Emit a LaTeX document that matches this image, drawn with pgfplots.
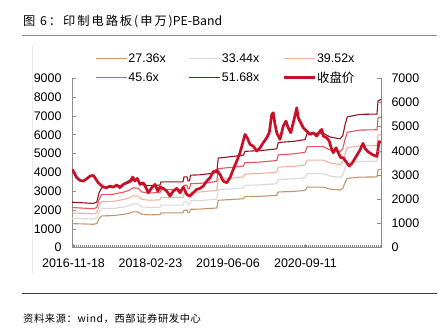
\documentclass[border=0pt]{standalone}
\usepackage{pgfplots}
\pgfplotsset{compat=1.18}
\usepackage{pgfplotstable}
\usepackage{fontspec}
\setmainfont{Liberation Sans}
\newfontfamily\cjk{Noto Sans CJK SC}
\newfontfamily\cjksp[LetterSpace=16]{Noto Sans CJK SC}
\newfontfamily\cjksrc[LetterSpace=6]{Noto Sans CJK SC}
\definecolor{c27}{RGB}{196,150,108}
\definecolor{c33}{RGB}{217,217,217}
\definecolor{c39}{RGB}{244,177,160}
\definecolor{c45}{RGB}{232,85,95}
\definecolor{c51}{RGB}{150,20,30}
\definecolor{cclose}{RGB}{200,16,40}
\definecolor{axgray}{RGB}{140,140,140}

% idx = trading-day index; b..f = 27.36x, 33.44x, 39.52x, 45.6x, 51.68x
\pgfplotstableread{
idx  b     c     d     e     f
0    1280  1564  1849  2133  2418
85   1245  1522  1798  2075  2352
99   1280  1564  1849  2133  2418
109  1560  1907  2253  2600  2947
119  1690  2066  2441  2817  3192
165  1705  2084  2463  2842  3221
205  1770  2163  2557  2950  3343
232  1840  2249  2658  3067  3476
245  1910  2334  2759  3183  3608
265  1895  2316  2737  3158  3579
279  1775  2169  2564  2958  3353
312  1745  2133  2521  2908  3296
352  1760  2151  2542  2933  3324
356  1850  2261  2672  3083  3494
444  1850  2261  2672  3083  3494
448  1990  2432  2874  3317  3759
460  1990  2432  2874  3317  3759
464  1880  2298  2716  3133  3551
470  1880  2298  2716  3133  3551
474  2040  2493  2947  3400  3853
512  2050  2506  2961  3417  3872
579  2110  2579  3048  3517  3986
585  2520  3080  3640  4200  4760
685  2600  3178  3756  4333  4911
692  2710  3312  3914  4517  5119
752  2730  3337  3943  4550  5157
819  2780  3398  4016  4633  5251
825  2960  3618  4276  4933  5591
885  2990  3654  4319  4983  5648
932  3040  3716  4391  5067  5742
941  3220  3936  4651  5367  6082
1005 3220  3936  4651  5367  6082
1032 3115  3807  4499  5192  5884
1072 3060  3740  4420  5100  5780
1083 3150  3850  4550  5250  5950
1092 3450  4217  4983  5750  6517
1101 3680  4498  5316  6133  6951
1152 3750  4583  5417  6250  7083
1220 3760  4596  5431  6267  7102
1224 4130  5048  5966  6883  7801
1236 4170  5097  6023  6950  7877
}\bands

\pgfplotstableread{
idx  v
0    4160
5    4071
19   3717
32   3575
45   3540
59   3664
72   3806
85   3841
92   3717
105  3452
125  3221
139  3186
152  3275
165  3221
179  3328
192  3186
205  3363
219  3452
232  3540
243  3752
252  3540
261  3682
272  3363
285  3452
296  3186
305  2921
319  3186
332  3363
343  3009
352  3221
365  3151
379  3009
392  2744
405  3009
419  3151
432  2921
445  3221
459  2832
472  2744
485  2921
499  3098
512  3151
525  3275
539  3540
552  3717
565  4036
579  4106
592  3894
605  3540
619  3452
632  3717
645  4160
659  4602
672  5045
683  5576
692  6018
701  5841
712  5487
725  5399
739  5133
752  5310
765  5576
779  5841
789  6107
799  7080
805  7169
812  6549
819  6107
832  5753
845  6461
856  6726
865  6372
875  6107
885  6638
893  7080
899  7434
905  6903
915  6638
925  6372
939  6195
952  6018
965  6107
979  5930
992  6195
999  6284
1005 5930
1019 5841
1029 5664
1039 5222
1045 5045
1056 5310
1065 5045
1075 4779
1085 4779
1099 4514
1109 4337
1120 4484
1132 4750
1152 5191
1164 5547
1172 5280
1184 5100
1204 4925
1220 4850
1228 5632
1236 5600
}\closep

\pgfplotsset{
  base/.style={
    width=309bp, height=169.4bp, scale only axis,
    at={(72bp,87.3bp)}, anchor=south west,
    xmin=0, xmax=1236,
    tick align=inside,
    major tick length=4bp,
    tick style={color=axgray, line width=0.6bp},
    axis line style={color=axgray, line width=0.8bp},
    ticklabel style={font=\fontsize{12.5}{14}\selectfont},
    /pgf/number format/assume math mode=true,
    /pgf/number format/1000 sep={},
  }
}

\begin{document}
\begin{tikzpicture}
\useasboundingbox (0,0) rectangle (442bp,335bp);
\fill[white] (0,0) rectangle (442bp,335bp);

\node[anchor=base west, inner sep=0pt, font=\fontsize{12.3}{15}\selectfont] at (23bp,309bp) {{\cjksp 图 6：印制电路板(申万)}{\cjk PE-Band}};
\draw[black!45, line width=1bp] (22bp,299bp) -- (437bp,299bp);
\draw[black!8, line width=0.6bp] (32bp,62bp) -- (32bp,290bp);
\draw[black!75, line width=0.8bp] (22bp,42bp) -- (437bp,42bp);
\node[anchor=base west, inner sep=0pt, font=\cjksrc\fontsize{10.3}{12}\selectfont] at (23bp,12.5bp) {资料来源：wind，西部证券研发中心};

\begin{axis}[base,
  axis x line*=bottom, axis y line*=left,
  ymin=0, ymax=9000, ytick={0,1000,...,9000},
  xtick={6,314,624,934},
  xticklabels={2016-11-18,2018-02-23,2019-06-06,2020-09-11},
  minor xtick={0,8,...,1236},
  minor tick length=3bp,
  minor tick style={color=axgray, line width=0.6bp},
  x tick style={color=axgray, line width=0.6bp},
  xticklabel style={yshift=-8bp},
  yticklabel style={xshift=-7bp},
  legend columns=3,
  legend cell align=left,
  legend image code/.code={\draw[#1] (0bp,0bp) -- (31bp,0bp);},
  legend style={at={(0.075,1.16)}, anchor=north west, draw=none, fill=none,
    font=\fontsize{12.5}{14}\selectfont, inner sep=0pt, row sep=4bp,
    nodes={inner xsep=1bp},
    /tikz/every even column/.append style={column sep=22bp}},
]
\addplot[c27, line width=1.1bp] table[x=idx, y=b] {\bands};
\addlegendentry{27.36x}
\addplot[c33, line width=1.1bp] table[x=idx, y=c] {\bands};
\addlegendentry{33.44x}
\addplot[c39, line width=1.1bp] table[x=idx, y=d] {\bands};
\addlegendentry{39.52x}
\addplot[c45, line width=1.1bp] table[x=idx, y=e] {\bands};
\addlegendentry{45.6x}
\addplot[c51, line width=1.1bp] table[x=idx, y=f] {\bands};
\addlegendentry{51.68x}
\addplot[cclose, line width=2.7bp, line join=round] table[x=idx, y=v] {\closep};
\addlegendentry{\cjk 收盘价}
\end{axis}

\begin{axis}[base,
  axis y line*=right, axis x line=none,
  ymin=0, ymax=7000, ytick={0,1000,...,7000},
  yticklabel style={xshift=7bp},
]
\end{axis}
\end{tikzpicture}
\end{document}
